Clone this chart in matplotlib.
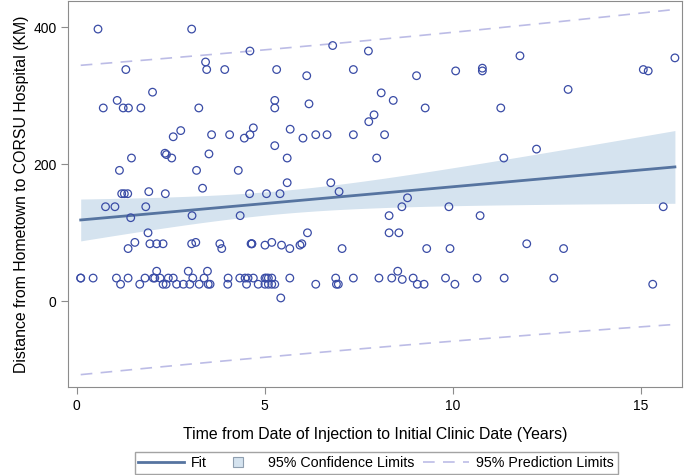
import numpy as np
import matplotlib
matplotlib.use("Agg")
import matplotlib.pyplot as plt
from matplotlib.lines import Line2D

plt.rcParams['font.family'] = ['Liberation Sans', 'DejaVu Sans']

# years since injection, distance in km
years_top = [0.57, 3.06, 4.61, 3.43, 1.31, 3.46, 3.94, 5.32, 2.02, 1.08, 0.71, 1.24, 1.38, 1.71, 3.25,
             5.27, 5.27, 2.77, 2.57, 3.59, 4.07, 4.46, 4.61, 4.70, 5.27, 1.46, 2.35, 2.39, 2.53, 3.52,
             6.81, 7.76, 6.12, 7.36, 9.04, 10.08, 10.79, 10.79, 6.18, 8.10, 8.42, 9.27, 7.91, 7.77,
             5.68, 6.02, 6.36, 6.66, 7.36, 8.19, 5.60, 7.98, 11.79, 15.07, 15.20, 15.91, 13.07,
             11.28, 12.23, 11.36]
km_top = [397, 397, 365, 349, 338, 338, 338, 338, 305, 293, 282, 282, 282, 282, 282,
          293, 282, 249, 240, 243, 243, 238, 243, 253, 227, 209, 216, 214, 209, 215,
          373, 365, 329, 338, 329, 336, 340, 336, 288, 304, 293, 282, 272, 262,
          251, 238, 243, 243, 243, 243, 209, 209, 358, 338, 336, 355, 309,
          282, 222, 209]

years_mid = [1.14, 3.19, 4.30, 1.20, 1.27, 1.36, 1.92, 2.36, 3.35, 4.60, 5.05, 0.77, 1.02, 1.84,
             1.44, 3.07, 4.35, 1.90, 1.37, 1.55, 1.95, 2.13, 2.30, 3.06, 3.17, 3.81, 3.86, 4.64,
             4.66, 4.66, 5.01, 5.19, 5.45, 5.60, 6.76, 5.41, 6.98, 8.80, 8.65, 9.90, 8.31, 10.73,
             6.14, 8.31, 8.57, 5.67, 5.94, 5.99, 7.06, 9.31, 9.93, 15.60, 11.97, 12.95]
km_mid = [191, 191, 191, 157, 157, 157, 160, 157, 165, 157, 157, 138, 138, 138,
          122, 125, 125, 100, 77, 86, 84, 84, 84, 84, 86, 84, 77, 84,
          84, 84, 82, 86, 82, 173, 173, 157, 160, 151, 138, 138, 125, 125,
          100, 100, 100, 77, 82, 84, 77, 77, 77, 138, 84, 77]

years_low = [0.11, 0.11, 0.44, 1.06, 1.17, 1.37, 1.68, 1.82, 2.04, 2.08, 2.13, 2.22, 2.30, 2.38,
             2.44, 2.57, 2.66, 2.84, 2.97, 3.01, 3.09, 3.26, 3.39, 3.48, 3.50, 3.55, 4.03, 4.02,
             4.34, 4.48, 4.56, 4.70, 4.52, 4.83, 5.01, 5.05, 5.10, 5.19, 5.01, 5.10, 5.19, 5.27,
             5.43, 5.67, 6.36, 6.89, 6.91, 6.96, 7.36, 8.04, 8.38, 8.54, 8.66, 8.95, 9.06, 9.24,
             9.81, 10.06, 10.65, 11.37, 12.69, 15.32]
km_low = [34, 34, 34, 34, 25, 34, 25, 34, 34, 34, 44, 34, 25, 25,
          34, 34, 25, 25, 44, 25, 34, 25, 34, 44, 25, 25, 34, 25,
          34, 34, 34, 34, 25, 25, 34, 34, 34, 34, 25, 25, 25, 25,
          5, 34, 25, 34, 25, 25, 34, 34, 34, 44, 32, 34, 25, 25,
          34, 25, 34, 34, 34, 25]

x = np.array(years_top + years_mid + years_low)
y = np.array(km_top + km_mid + km_low, dtype=float)

# simple linear regression with 95% limits
n = len(x)
slope, intercept = np.polyfit(x, y, 1)
resid = y - (intercept + slope * x)
s = np.sqrt(np.sum(resid ** 2) / (n - 2))
sxx = np.sum((x - x.mean()) ** 2)
t = 1.97
xs = np.linspace(x.min(), x.max(), 200)
fit = intercept + slope * xs
se_mean = s * np.sqrt(1.0 / n + (xs - x.mean()) ** 2 / sxx)
se_pred = s * np.sqrt(1 + 1.0 / n + (xs - x.mean()) ** 2 / sxx)

fit_col = '#5674a0'
band_col = '#d5e3ef'
pred_col = '#bcbce6'
pt_col = '#3a4ca6'
frame_col = '#8c8c8c'

fig = plt.figure(figsize=(6.85, 4.75), dpi=100)
ax = fig.add_axes([0.0997, 0.185, 0.896, 0.813])

ax.fill_between(xs, fit - t * se_mean, fit + t * se_mean, color=band_col, lw=0)
ax.plot(xs, fit, color=fit_col, lw=2)
ax.plot(xs, fit - t * se_pred, color=pred_col, lw=1.2, dashes=(7, 5))
ax.plot(xs, fit + t * se_pred, color=pred_col, lw=1.2, dashes=(7, 5))
ax.scatter(x, y, s=30, facecolors='none', edgecolors=pt_col, linewidths=0.9, zorder=3)

ax.set_xlim(-0.22, 16.1)
ax.set_ylim(-125, 438)
ax.set_xticks([0, 5, 10, 15])
ax.set_yticks([0, 200, 400])
for sp in ax.spines.values():
    sp.set_color(frame_col)
ax.tick_params(colors=frame_col, labelcolor='black', labelsize=10, length=5, direction='out')
ax.set_xlabel('Time from Date of Injection to Initial Clinic Date (Years)', fontsize=11.4, labelpad=10)
ax.set_ylabel('Distance from Hometown to CORSU Hospital (KM)', fontsize=11.4, labelpad=3)

handles = [Line2D([], [], color=fit_col, lw=2),
           Line2D([], [], ls='none', marker='s', markersize=7, markerfacecolor=band_col,
                  markeredgecolor='#8f9fb0', markeredgewidth=0.8),
           Line2D([], [], color=pred_col, lw=1.2, dashes=(7, 5))]
labels = ['Fit', '95% Confidence Limits', '95% Prediction Limits']
fig.legend(handles, labels, loc='lower center', bbox_to_anchor=(0.549, 0.0), ncol=3,
           fontsize=10.3, frameon=True, fancybox=False, edgecolor=frame_col,
           handlelength=3.2, handletextpad=0.5, columnspacing=0.6, borderpad=0.25,
           borderaxespad=0.1)

fig.savefig('out.png', dpi=100)
